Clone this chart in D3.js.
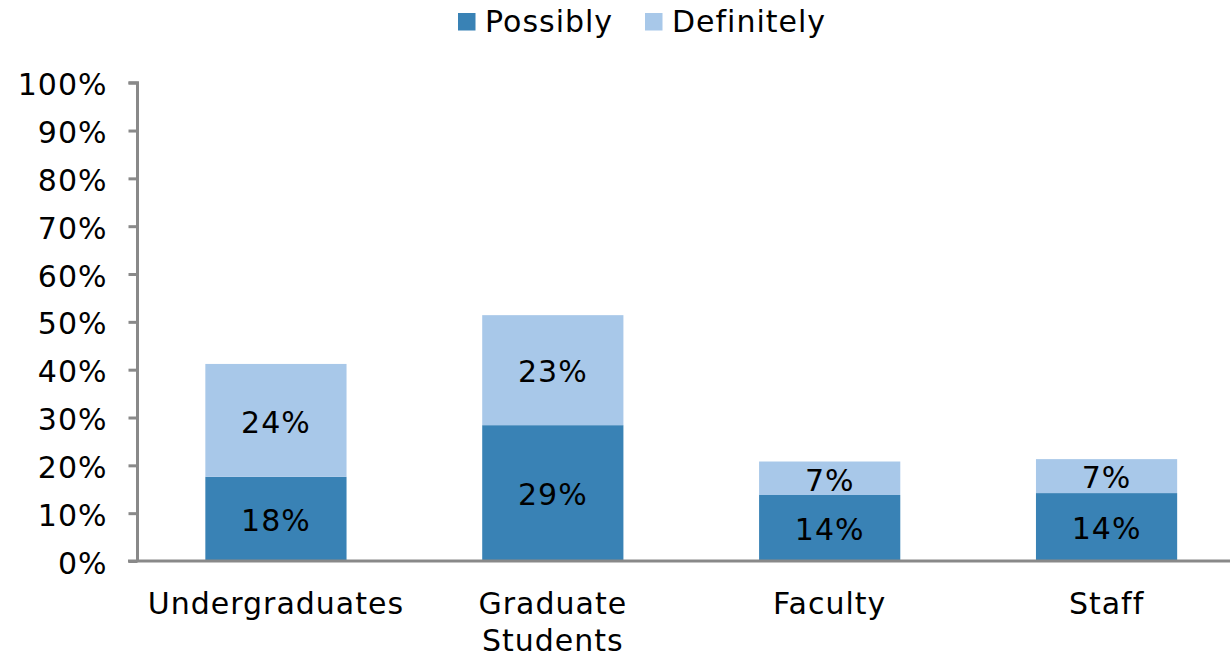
<!DOCTYPE html>
<html><head><meta charset="utf-8">
<script src="https://cdn.jsdelivr.net/npm/d3@7"></script>
<style>body{margin:0;background:#fff;}svg{display:block;font-family:"DejaVu Sans",Verdana,sans-serif;}text{letter-spacing:1px;}</style>
</head><body>
<svg id="c" width="1230" height="657"></svg>
<script>
const categories = [["Undergraduates"], ["Graduate","Students"], ["Faculty"], ["Staff"]];
const seriesNames = ["Possibly", "Definitely"];
const possibly = [17.6, 28.4, 13.8, 14.2];
const definitely = [23.6, 23.0, 7.0, 7.1];
const possiblyLabels = ["18%", "29%", "14%", "14%"];
const definitelyLabels = ["24%", "23%", "7%", "7%"];
const yTicks = [0,10,20,30,40,50,60,70,80,90,100];
const colors = ["#3982B5", "#A8C8E9"];

const svg = d3.select("#c");
const fs = 30;
const x = d3.scaleBand().domain(d3.range(categories.length)).range([137.5, 1245]).paddingInner(0.49).paddingOuter(0.245);
const y = d3.scaleLinear().domain([0, 100]).range([561, 82.7]);

// bars
const data = categories.map((c, i) => ({i, p: possibly[i], d: definitely[i]}));
const g = svg.append("g");
g.selectAll(".bp").data(data).join("rect")
  .attr("x", d => x(d.i)).attr("width", x.bandwidth())
  .attr("y", d => y(d.p)).attr("height", d => y(0) - y(d.p))
  .attr("fill", colors[0]);
g.selectAll(".bd").data(data).join("rect")
  .attr("x", d => x(d.i)).attr("width", x.bandwidth())
  .attr("y", d => y(d.p + d.d)).attr("height", d => y(d.p) - y(d.p + d.d))
  .attr("fill", colors[1]);

// data labels
g.selectAll(".lp").data(data).join("text")
  .attr("x", d => x(d.i) + x.bandwidth()/2).attr("y", d => y(d.p/2))
  .attr("dy", "0.41em").attr("text-anchor", "middle").attr("font-size", fs).attr("fill", "#000")
  .text(d => possiblyLabels[d.i]);
g.selectAll(".ld").data(data).join("text")
  .attr("x", d => x(d.i) + x.bandwidth()/2).attr("y", d => y(d.p + d.d/2))
  .attr("dy", "0.41em").attr("text-anchor", "middle").attr("font-size", fs).attr("fill", "#000")
  .text(d => definitelyLabels[d.i]);

// y axis
const ya = svg.append("g").attr("transform", "translate(137.5,0)")
  .call(d3.axisLeft(y).tickValues(yTicks).tickFormat(d => d + "%").tickSize(9).tickPadding(21));
ya.select(".domain").attr("stroke", "#898989").attr("stroke-width", 3).attr("d", `M-9,${y(100)}H0V${y(0)}`);
ya.selectAll(".tick line").attr("stroke", "#898989").attr("stroke-width", 3);
ya.selectAll(".tick text").attr("font-size", fs).attr("fill", "#000").attr("dy", "0.4em")
  .attr("font-family", '"DejaVu Sans",Verdana,sans-serif');

// x axis
const xa = svg.append("g").attr("transform", `translate(0,${y(0)})`)
  .call(d3.axisBottom(x).tickSize(0).tickFormat(""));
xa.select(".domain").attr("stroke", "#898989").attr("stroke-width", 3).attr("d", `M128,0H1230`);
xa.selectAll(".tick").each(function(d) {
  const t = d3.select(this).append("text").attr("text-anchor", "middle").attr("font-size", fs).attr("fill", "#000")
    .attr("font-family", '"DejaVu Sans",Verdana,sans-serif');
  categories[d].forEach((line, k) => t.append("tspan").attr("x", 0).attr("y", 53 + k*37).text(line));
});

// legend
const legendX = [458, 645];
const lg = svg.append("g");
seriesNames.forEach((n, i) => {
  lg.append("rect").attr("x", legendX[i]).attr("y", 13).attr("width", 17.5).attr("height", 17.5).attr("fill", colors[i]);
  lg.append("text").attr("x", legendX[i] + 27).attr("y", 32)
    .attr("font-size", fs).attr("fill", "#000").text(n);
});
</script>
</body></html>
